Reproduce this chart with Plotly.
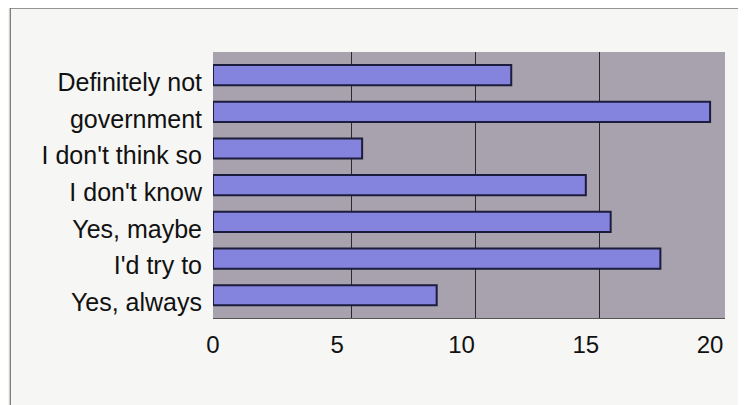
import plotly.graph_objects as go

# Categories listed top to bottom as they appear in the chart
categories = [
    "Definitely not",
    "government",
    "I don't think so",
    "I don't know",
    "Yes, maybe",
    "I'd try to",
    "Yes, always",
]
counts = [12, 20, 6, 15, 16, 18, 9]
x_ticks = [0, 5, 10, 15, 20]

BAR_FILL = '#8484de'
BAR_EDGE = '#1c1c3c'
WALL = '#a7a2ad'

fig = go.Figure()

fig.add_trace(go.Bar(
    x=counts,
    y=categories,
    orientation='h',
    marker=dict(color=BAR_FILL, line=dict(color=BAR_EDGE, width=2)),
    width=0.55,
    hoverinfo='x+y',
))

# invisible trace so the "back wall" gridline axis gets drawn
fig.add_trace(go.Scatter(
    x=[x_ticks[0]], y=[categories[0]], xaxis='x2',
    mode='markers', marker=dict(opacity=0), showlegend=False, hoverinfo='skip',
))

# page body has an 8px margin, so margins are offset by that amount
fig.update_layout(
    width=746,
    height=405,
    margin=dict(l=205, r=29, t=44, b=95),
    paper_bgcolor='#f6f6f4',
    plot_bgcolor=WALL,
    showlegend=False,
    font=dict(family='Liberation Sans, Arial, sans-serif', color='#111111'),
    xaxis=dict(
        range=[0, 20.6],
        tickvals=x_ticks,
        showgrid=False,
        zeroline=False,
        showline=True,
        linecolor='#555555',
        ticks='',
        ticklabelstandoff=5,
        tickfont=dict(size=24),
    ),
    # gridlines sit on the back wall, shifted right like the 3D original
    xaxis2=dict(
        overlaying='x',
        range=[-0.56, 20.04],
        tickvals=x_ticks[1:-1],
        showgrid=True,
        gridcolor='#2a2a2a',
        gridwidth=1,
        showticklabels=False,
        zeroline=False,
        side='bottom',
        anchor='y',
    ),
    yaxis=dict(
        categoryorder='array',
        categoryarray=categories,
        range=[6.62, -0.63],
        showgrid=False,
        zeroline=False,
        ticks='',
        ticklabelstandoff=10,
        ticklabelshift=-7,
        tickfont=dict(size=25),
    ),
    shapes=[
        dict(type='rect', xref='paper', yref='paper',
             x0=-0.396, x1=2, y0=-1, y1=1.165,
             line=dict(color='#555555', width=1), layer='below'),
    ],
)

fig.write_html("out.html")
